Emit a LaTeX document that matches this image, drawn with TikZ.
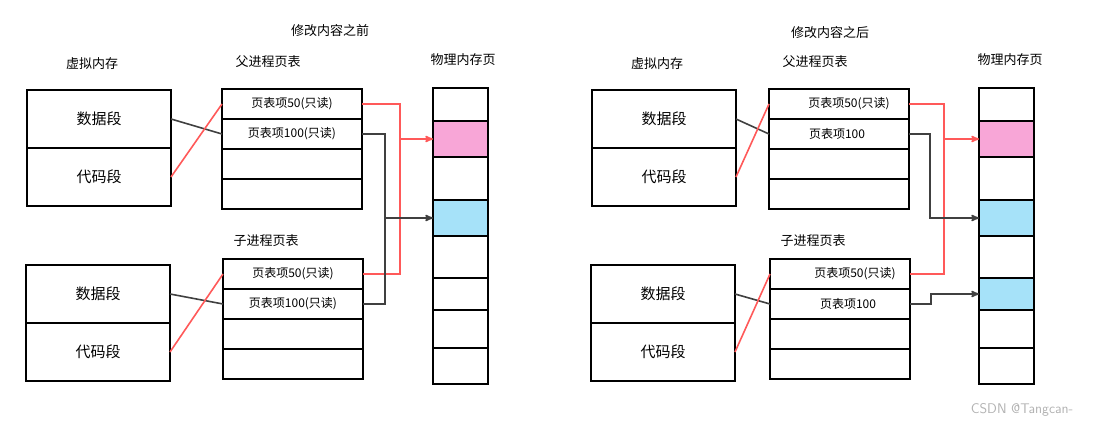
\documentclass[tikz,border=0pt]{standalone}
\usepackage{fontspec}
\setmainfont{Noto Sans CJK SC}
\usetikzlibrary{arrows}

\begin{document}
\begin{tikzpicture}[x=1pt,y=-1pt,>=stealth',thick,
	cell/.style={draw,line width=2pt,outer sep=0pt,minimum width=140pt,minimum height=30pt,inner sep=0pt,font=\fontsize{12}{14}\selectfont},
	seg/.style={draw,line width=2pt,outer sep=0pt,minimum width=144pt,minimum height=58pt,inner sep=0pt,font=\fontsize{15}{17}\selectfont},
	page/.style={draw,line width=2pt,outer sep=0pt,minimum width=55pt,inner sep=0pt},
	title/.style={font=\fontsize{13}{15}\selectfont},
	ro/.style={red!65,line width=1.6pt},
	rw/.style={black!75,line width=1.6pt}]
	\useasboundingbox (0,0) rectangle (1112,428);
	
	% virtual memory and page tables, both panels
	\foreach \p/\dx in {L/0,R/565}{
		\node[seg,anchor=north west] (\p vd) at (27+\dx,90) {数据段};
		\node[seg,anchor=north] (\p vc) at (\p vd.south) {代码段};
		\node[seg,anchor=north west] (\p cd) at (26+\dx,265) {数据段};
		\node[seg,anchor=north] (\p cc) at (\p cd.south) {代码段};
		\node[title] at (92+\dx,64) {虚拟内存};
	}
	\foreach \p/\dx in {L/0,R/547}{
		\node[cell,anchor=north west] (\p f1) at (222+\dx,89) {};
		\node[cell,anchor=north] (\p f2) at (\p f1.south) {};
		\node[cell,anchor=north] (\p f3) at (\p f2.south) {};
		\node[cell,anchor=north] (\p f4) at (\p f3.south) {};
		\node[cell,anchor=north west] (\p s1) at (223+\dx,259) {};
		\node[cell,anchor=north] (\p s2) at (\p s1.south) {};
		\node[cell,anchor=north] (\p s3) at (\p s2.south) {};
		\node[cell,anchor=north] (\p s4) at (\p s3.south) {};
		\node[title] at (268+\dx,62) {父进程页表};
		\node[title] at (266+\dx,241) {子进程页表};
		\node[title] at (463+\dx,60) {物理内存页};
		\draw[rw] (\p vd.east) -- (\p f2.west);
		\draw[ro] (\p vc.east) -- (\p f1.west);
		\draw[rw] (\p cd.east) -- (\p s2.west);
		\draw[ro] (\p cc.east) -- (\p s1.west);
	}
	\node[cell,draw=none] at (Lf1) {页表项50(只读)};
	\node[cell,draw=none] at (Lf2) {页表项100(只读)};
	\node[cell,draw=none] at (Ls1) {页表项50(只读)};
	\node[cell,draw=none] at (Ls2) {页表项100(只读)};
	\node[cell,draw=none,xshift=10pt] at (Rf1) {页表项50(只读)};
	\node[cell,draw=none,xshift=-2pt] at (Rf2) {页表项100};
	\node[cell,draw=none,xshift=15pt] at (Rs1) {页表项50(只读)};
	\node[cell,draw=none,xshift=8pt] at (Rs2) {页表项100};
	
	\node[title] at (330,31) {修改内容之前};
	\node[title] at (830,33) {修改内容之后};
	
	% physical pages
	\foreach \p/\dx/\c in {L/0/white,R/546/cyan!35}{
		\node[page,anchor=north west,minimum height=33pt] (\p m1) at (433+\dx,88) {};
		\node[page,anchor=north,minimum height=36pt,fill=magenta!35] (\p m2) at (\p m1.south) {};
		\node[page,anchor=north,minimum height=43pt] (\p m3) at (\p m2.south) {};
		\node[page,anchor=north,minimum height=36pt,fill=cyan!35] (\p m4) at (\p m3.south) {};
		\node[page,anchor=north,minimum height=42pt] (\p m5) at (\p m4.south) {};
		\node[page,anchor=north,minimum height=32pt,fill=\c] (\p m6) at (\p m5.south) {};
		\node[page,anchor=north,minimum height=38pt] (\p m7) at (\p m6.south) {};
		\node[page,anchor=north,minimum height=36pt] (\p m8) at (\p m7.south) {};
	}
	\coordinate (Lred) at (400,139);
	\coordinate (Lblack) at (385,218);
	\coordinate (Rred) at (944,139);
	
	% before
	\draw[ro] (Lf1.east) -- ++(38,0) |- (Ls1.east);
	\draw[ro,->] (Lred) -- (Lm2.west);
	\draw[rw] (Lf2.east) -- ++(23,0) |- (Ls2.east);
	\draw[rw,->] (Lblack) -- (Lm4.west);
	
	% after
	\draw[ro] (Rf1.east) -- ++(35,0) |- (Rs1.east);
	\draw[ro,->] (Rred) -- (Rm2.west);
	\draw[rw,->] (Rf2.east) -- ++(21,0) |- (Rm4.west);
	\draw[rw,->] (Rs2.east) -- ++(21,0) |- (Rm6.west);
	
	\node[text=gray!60,font=\fontsize{14}{16}\selectfont\sffamily] at (1022,410) {CSDN @Tangcan-};
\end{tikzpicture}
\end{document}
